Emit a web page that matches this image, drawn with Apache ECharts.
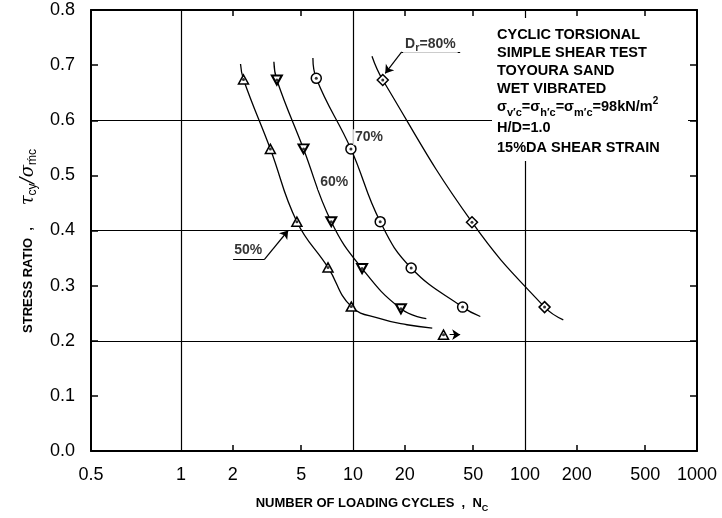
<!DOCTYPE html>
<html><head><meta charset="utf-8">
<script src="https://cdn.jsdelivr.net/npm/echarts@6/dist/echarts.min.js"></script>
<style>html,body{margin:0;padding:0;background:#fff}#c{width:722px;height:518px}</style>
</head><body><div id="c"></div>
<script>
// ---- axis ticks / labels ----
const xTickValues = [0.3, 1, 2, 5, 10, 20, 50, 100, 200, 500, 1000];
const xTickLabels = ['0.5', '1', '2', '5', '10', '20', '50', '100', '200', '500', '1000'];
const xMinorTicks = [2, 5, 20, 50, 200, 500];
const xGridValues = [1, 10, 100];

// ---- measured test points [N cycles, stress ratio] ----
const dr50 = [[2.31, 0.674], [3.31, 0.548], [4.72, 0.416], [7.16, 0.333], [9.78, 0.262]];
const dr50Runout = [[33.6, 0.211]];
const dr60 = [[3.61, 0.673], [5.16, 0.548], [7.48, 0.416], [11.3, 0.331], [19.0, 0.258]];
const dr70 = [[6.12, 0.676], [9.73, 0.548], [14.4, 0.416], [21.8, 0.332], [43.4, 0.261]];
const dr80 = [[14.9, 0.673], [49.2, 0.415], [130, 0.261]];

// ---- fitted curves as drawn in the figure ----
const curve50 = [[2.22, 0.702], [2.31, 0.674], [3.31, 0.548], [4.72, 0.416], [7.16, 0.333], [9.78, 0.262], [14.4, 0.240], [20.6, 0.229], [28.9, 0.223]];
const curve60 = [[3.47, 0.706], [3.61, 0.673], [5.16, 0.548], [7.48, 0.416], [11.3, 0.331], [19.0, 0.258], [26.7, 0.240]];
const curve70 = [[5.85, 0.713], [6.12, 0.676], [9.73, 0.548], [14.4, 0.416], [21.8, 0.332], [43.4, 0.261], [55, 0.244]];
const curve80 = [[12.9, 0.716], [14.9, 0.673], [49.2, 0.415], [130, 0.261], [167, 0.238]];

// ---- curve labels and leaders (data space) ----
const curveLabels = [
  { name: '50%', value: [2.46, 0.364] },
  { name: '60%', value: [7.79, 0.488] },
  { name: '70%', value: [12.4, 0.569] },
  { name: 'Dr=80%', value: [28.2, 0.738] }
];
const underlines = [
  [[2.01, 0.347], [3.05, 0.347]],
  [[19.2, 0.724], [42.0, 0.724]]
];
const leaders = [
  [[3.05, 0.347], [4.2, 0.400]],
  [[19.2, 0.724], [15.4, 0.685]]
];

const FONT = '"Liberation Sans", Arial, Helvetica, sans-serif';
const K = '#000';

const chart = echarts.init(document.getElementById('c'));

function markers(data, symbol, size, bw) {
  return { type: 'scatter', data, symbol, symbolSize: size, z: 5, xAxisIndex: 0, yAxisIndex: 0,
    itemStyle: { color: '#fff', borderColor: K, borderWidth: bw, opacity: 1 } };
}
function dots(data, size) {
  return { type: 'scatter', data, symbol: 'circle', symbolSize: size, z: 6, silent: true,
    itemStyle: { color: K } };
}
function curve(data) {
  return { type: 'line', data, smooth: 0.45, symbol: 'none', showSymbol: false, z: 3,
    lineStyle: { color: K, width: 1.3 } };
}

const runoutArrow = dr50Runout.map(p => [[p[0] * 1.085, p[1]], [p[0] * 1.25, p[1]]]);

const tickLine = { color: K, width: 1.5 };
const axisLine = { show: true, onZero: false, lineStyle: { color: K, width: 2 } };

const option = {
  animation: false,
  backgroundColor: '#fff',
  grid: { left: 91, right: 25, top: 10, bottom: 64 },
  xAxis: [
    {
      type: 'log', logBase: 10, min: 0.3, max: 1000, position: 'bottom',
      axisLine,
      axisTick: { show: true, inside: true, length: 6, customValues: xMinorTicks, lineStyle: tickLine },
      axisLabel: {
        customValues: xTickValues,
        formatter: v => xTickLabels[xTickValues.indexOf(v)] ?? String(v),
        fontSize: 18, color: K, margin: 15, fontFamily: FONT
      },
      splitLine: { show: false },
      name: '{a|NUMBER OF LOADING CYCLES  ,  N}{s|C}',
      nameLocation: 'middle', nameGap: 42,
      nameTextStyle: {
        padding: [0, 44, 0, 0],
        rich: {
          a: { fontSize: 13, fontWeight: 'bold', fontFamily: FONT, color: K, lineHeight: 20, verticalAlign: 'middle' },
          s: { fontSize: 9, fontWeight: 'bold', fontFamily: FONT, color: K, lineHeight: 8, verticalAlign: 'bottom' }
        }
      }
    },
    {
      type: 'log', logBase: 10, min: 0.3, max: 1000, position: 'top',
      axisLine,
      axisTick: { show: true, inside: true, length: 6, customValues: xMinorTicks, lineStyle: tickLine },
      axisLabel: { show: false },
      splitLine: { show: false }
    },
    {
      type: 'log', logBase: 10, min: 0.3, max: 1000, position: 'bottom',
      axisLine: { show: false },
      axisTick: { show: false, customValues: xGridValues },
      axisLabel: { show: false },
      splitLine: { show: true, lineStyle: { color: K, width: 1.2 } }
    }
  ],
  yAxis: [
    {
      type: 'value', min: 0, max: 0.8, interval: 0.1, position: 'left',
      axisLine,
      axisTick: { show: true, inside: true, length: 7, lineStyle: tickLine },
      axisLabel: { formatter: v => v.toFixed(1), fontSize: 18, color: K, margin: 16, fontFamily: FONT },
      splitLine: { show: false },
      name: '{a|STRESS RATIO  ,      }{g|τ}{s|cy}{g|/σ}{s|ḿc}',
      nameLocation: 'middle', nameGap: 47, nameRotate: 90,
      nameTextStyle: {
        padding: [0, 21, 0, 0],
        rich: {
          a: { fontSize: 13, fontWeight: 'bold', fontFamily: FONT, color: K, lineHeight: 22, verticalAlign: 'middle' },
          g: { fontSize: 18, fontStyle: 'italic', fontFamily: '"DejaVu Serif", serif', color: K, lineHeight: 22, verticalAlign: 'middle' },
          s: { fontSize: 12, fontFamily: FONT, color: K, lineHeight: 10, verticalAlign: 'bottom' }
        }
      }
    },
    {
      type: 'value', min: 0, max: 0.8, interval: 0.1, position: 'right',
      axisLine,
      axisTick: { show: true, inside: true, length: 7, lineStyle: tickLine },
      axisLabel: { show: false },
      splitLine: { show: false }
    },
    {
      type: 'value', min: 0, max: 0.8, interval: 0.2, position: 'left',
      axisLine: { show: false }, axisTick: { show: false }, axisLabel: { show: false },
      splitLine: { show: true, lineStyle: { color: K, width: 1.2 } }
    }
  ],
  series: [
    curve(curve50), curve(curve60), curve(curve70), curve(curve80),
    markers(dr50.concat(dr50Runout), 'triangle', [10, 9], 1.5),
    markers(dr60, 'path://M0,0L10,0L5,9Z', [10, 9], 2),
    markers(dr70, 'circle', 10, 1.5),
    markers(dr80, 'diamond', 11, 1.5),
    dots(dr50.concat(dr50Runout), 3), dots(dr60, 3), dots(dr70, 3), dots(dr80, 3),
    {
      type: 'lines', coordinateSystem: 'cartesian2d', z: 4,
      data: leaders.concat(runoutArrow).map(c => ({ coords: c })),
      symbol: ['none', 'arrow'], symbolSize: [0, 8],
      lineStyle: { color: K, width: 1.2, opacity: 1, curveness: 0 }
    },
    {
      type: 'lines', coordinateSystem: 'cartesian2d', z: 4,
      data: underlines.map(c => ({ coords: c })),
      symbol: 'none',
      lineStyle: { color: K, width: 1.2, opacity: 1 }
    },
    {
      type: 'scatter', data: curveLabels, symbolSize: 1, z: 7, silent: true,
      itemStyle: { color: 'rgba(0,0,0,0)' },
      label: {
        show: true, position: 'inside', color: K, fontSize: 14, fontWeight: 'bold', fontFamily: FONT,
        backgroundColor: '#fff', padding: [1, 2],
        formatter: p => p.name === 'Dr=80%' ? '{a|D}{s|r}{a|=80%}' : p.name,
        rich: {
          a: { fontSize: 14, fontWeight: 'bold', fontFamily: FONT, color: K, lineHeight: 18, verticalAlign: 'middle' },
          s: { fontSize: 11, fontWeight: 'bold', fontFamily: FONT, color: K, lineHeight: 10, verticalAlign: 'bottom' }
        }
      }
    }
  ],
  graphic: [
    { type: 'rect', z: 50, shape: { x: 492, y: 18, width: 196, height: 143 }, style: { fill: '#fff' } },
    ...[
      ['CYCLIC TORSIONAL', 35], ['SIMPLE SHEAR TEST', 53], ['TOYOURA SAND', 71], ['WET VIBRATED', 89],
      ['H/D=1.0', 128], ['15%DA SHEAR STRAIN', 148]
    ].map(([t, y]) => ({
      type: 'text', z: 51, x: 497, y,
      style: { text: t, fill: K, font: 'bold 14.5px ' + FONT, align: 'left', verticalAlign: 'middle' }
    })),
    {
      type: 'text', z: 51, x: 497, y: 107,
      style: {
        text: '{a|σ}{v|v′}{c|c}{a|=σ}{v|h′}{c|c}{a|=σ}{v|m′}{c|c}{a|=98kN/m}{p|2}',
        fill: K, align: 'left', verticalAlign: 'middle',
        rich: {
          a: { font: 'bold 14.5px ' + FONT, fill: K, lineHeight: 22, verticalAlign: 'middle' },
          v: { font: 'bold 11px ' + FONT, fill: K, lineHeight: 16, verticalAlign: 'bottom' },
          c: { font: 'bold 11px ' + FONT, fill: K, lineHeight: 10, verticalAlign: 'bottom' },
          p: { font: 'bold 10px ' + FONT, fill: K, lineHeight: 12, verticalAlign: 'top' }
        }
      }
    }
  ]
};
chart.setOption(option);
</script>
</body></html>
